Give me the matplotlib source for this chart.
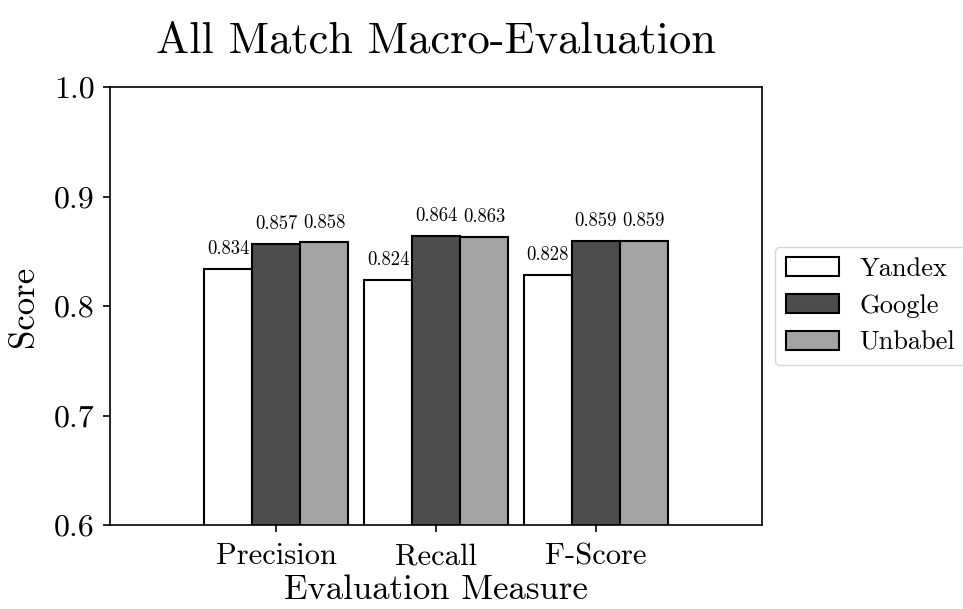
import numpy as np
import matplotlib
matplotlib.use('Agg')
import matplotlib.pyplot as plt

# Данные
measures = ['Precision', 'Recall', 'F-Score']
systems = ['Yandex', 'Google', 'Unbabel']
yandex = [0.834, 0.824, 0.828]
google = [0.857, 0.864, 0.859]
unbabel = [0.858, 0.863, 0.859]

plt.rcParams['font.family'] = 'cmr10'
plt.rcParams['mathtext.fontset'] = 'cm'
plt.rcParams['axes.unicode_minus'] = False
plt.rcParams['axes.formatter.use_mathtext'] = True

fig = plt.figure(figsize=(9.63, 6.09), dpi=100)
ax = fig.add_axes([110 / 963, 1 - 525 / 609, 652 / 963, 438 / 609])

index = np.arange(len(measures))
width = 0.3
colors = ['white', '#4d4d4d', '#a3a3a3']
for i, (name, vals) in enumerate(zip(systems, [yandex, google, unbabel])):
    pos = index + (i - 1) * width
    bars = ax.bar(pos, vals, width, color=colors[i], edgecolor='black',
                  linewidth=1.5, label=name)
    for b, v in zip(bars, vals):
        ax.text(b.get_x() + b.get_width() / 2, v + 0.01, f'{v:.3f}',
                ha='center', va='bottom', fontsize=13.5)

ax.set_xlim(-1.04, 3.04)
ax.set_ylim(0.6, 1.0)
ax.set_yticks([0.6, 0.7, 0.8, 0.9, 1.0])
ax.set_yticklabels(['0.6', '0.7', '0.8', '0.9', '1.0'])
ax.set_xticks(index)
ax.set_xticklabels(measures)
ax.tick_params(labelsize=22, length=5, width=1.2)
ax.tick_params(axis='x', pad=8)
ax.tick_params(axis='y', labelsize=23, pad=6)
for s in ax.spines.values():
    s.set_linewidth(1.2)

ax.set_xlabel('Evaluation Measure', fontsize=25, labelpad=3)
ax.set_ylabel('Score', fontsize=25, labelpad=10)
ax.set_title('All Match Macro-Evaluation', fontsize=32, pad=25)
ax.legend(loc='center left', bbox_to_anchor=(1.0, 0.5), fontsize=19)

fig.savefig('out.png', dpi=100)
